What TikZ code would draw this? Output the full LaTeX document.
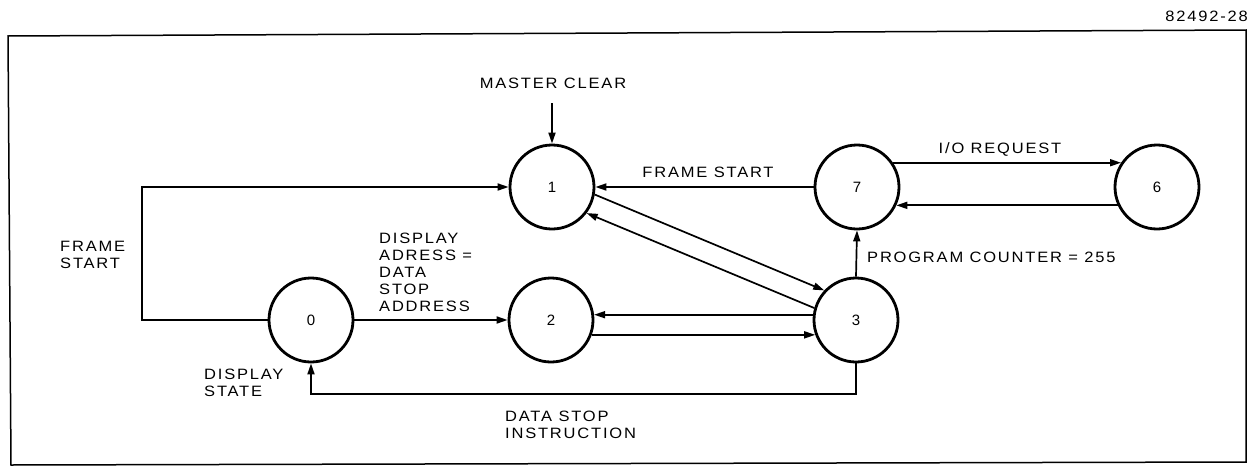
\documentclass[tikz,border=0pt]{standalone}
\usepackage{fontspec}
\setmainfont{Liberation Sans}[FakeStretch=1.1, LetterSpace=12]
\newfontfamily\digitfont{Liberation Sans}
\usetikzlibrary{arrows.meta}
\tikzset{
  state/.style={circle, draw, line width=2.8pt, minimum size=84pt, inner sep=0pt, font=\digitfont\fontsize{15}{17}\selectfont},
  conn/.style={line width=1.7pt, -{Triangle[length=11pt,width=7pt]}},
  lbl/.style={font=\fontsize{15}{17}\selectfont, inner sep=0pt, align=left},
}
\begin{document}
\begin{tikzpicture}[x=1pt,y=-1pt]
\useasboundingbox (0,0) rectangle (1251,466);
\draw[line width=1.5pt] (8,36) -- (1246,30) -- (1246,462) -- (11,465) -- cycle;
\node[font=\fontsize{15}{17}\selectfont, anchor=east, inner sep=0pt] (code) at (1248,16) {82492-28};

\node[state] (n0) at (311,320) {0};
\node[state] (n1) at (552,187) {1};
\node[state] (n2) at (551,320) {2};
\node[state] (n3) at (856,320) {3};
\node[state] (n7) at (857,187) {7};
\node[state] (n6) at (1157,187) {6};

% master clear
\node[lbl, anchor=center] (mc) at (553,83) {MASTER CLEAR};
\coordinate (mcs) at (552,103);
\draw[conn] (mcs) -- (n1.north);

% frame start from 0 to 1
\coordinate (fl) at (142,320);
\draw[conn] (n0.west) -- (fl) |- (n1.west);
\node[lbl, anchor=west] (fs1) at (60,255) {FRAME\\START};

% 0 -> 2
\draw[conn] (n0.east) -- (n2.west);
\node[lbl, anchor=west] (da) at (379,272) {DISPLAY\\ADRESS =\\DATA\\STOP\\ADDRESS};

% 3 <-> 2
\draw[conn] (n3.173) -- (n2.7);
\draw[conn] (n2.-20) -- (n3.200);

% 1 <-> 3 diagonals
\draw[conn] (n1.-10) -- (n3.137);
\draw[conn] (n3.164) -- (n1.-37);

% 7 -> 1
\draw[conn] (n7.west) -- (n1.east);
\node[lbl, anchor=center] (fs2) at (708,172) {FRAME START};

% 7 <-> 6
\draw[conn] (n7.34) -- (n6.146);
\draw[conn] (n6.205) -- (n7.-25);
\node[lbl, anchor=center] (io) at (1000,149) {I/O REQUEST};

% 3 -> 7
\draw[conn] (n3.north) -- (n7.south);
\node[lbl, anchor=west] (pc) at (867,257) {PROGRAM COUNTER = 255};

% 3 -> 0
\coordinate (b3) at (856,394);
\draw[conn] (n3.south) -- (b3) -| (n0.south);
\node[lbl, anchor=west] (dsi) at (505,425) {DATA STOP\\INSTRUCTION};
\node[lbl, anchor=west] (ds) at (204,383) {DISPLAY\\STATE};
\end{tikzpicture}
\end{document}
